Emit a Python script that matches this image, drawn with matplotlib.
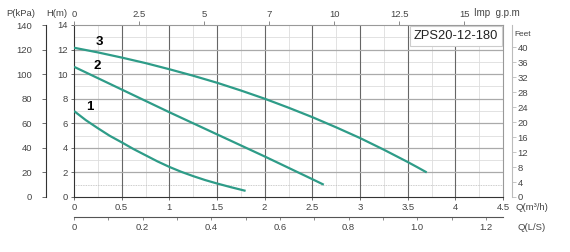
import numpy as np
import matplotlib.pyplot as plt
from matplotlib.ticker import MultipleLocator, FixedLocator

# pump curves, Q in m3/h, H in m
q1 = [0, 0.125, 0.25, 0.375, 0.5, 0.625, 0.75, 0.875, 1.0, 1.125, 1.25, 1.375, 1.5, 1.65, 1.8]
h1 = [7.0, 6.25, 5.6, 4.98, 4.45, 3.9, 3.4, 2.9, 2.45, 2.05, 1.7, 1.38, 1.1, 0.79, 0.5]
q2 = [0, 0.5, 1.0, 1.5, 2.0, 2.5, 2.62]
h2 = [10.6, 8.75, 6.9, 5.1, 3.3, 1.45, 1.0]
q3 = [0, 0.25, 0.5, 0.75, 1.0, 1.25, 1.5, 1.75, 2.0, 2.25, 2.5, 2.75, 3.0, 3.25, 3.5, 3.6, 3.7]
h3 = [12.15, 11.77, 11.35, 10.9, 10.4, 9.87, 9.3, 8.67, 8.0, 7.27, 6.5, 5.67, 4.8, 3.85, 2.85, 2.43, 2.0]
curve_names = ['1', '2', '3']

q_ticks = [0, 0.5, 1, 1.5, 2, 2.5, 3, 3.5, 4, 4.5]
q_labels = ['0', '0.5', '1', '1.5', '2', '2.5', '3', '3.5', '4', '4.5']
h_ticks = [0, 2, 4, 6, 8, 10, 12, 14]
p_ticks = [0, 20, 40, 60, 80, 100, 120, 140]
ft_ticks = [0, 4, 8, 12, 16, 20, 24, 28, 32, 36, 40]
gpm_ticks = [0, 2.5, 5, 7.5, 10, 12.5, 15]
gpm_labels = ['0', '2.5', '5', '7', '10', '12.5', '15']
ls_ticks = [0, 0.2, 0.4, 0.6, 0.8, 1.0, 1.2]
ls_labels = ['0', '0.2', '0.4', '0.6', '0.8', '1.0', '1.2']
model = 'ZPS20-12-180'

plt.rcParams['font.family'] = ['Liberation Sans', 'DejaVu Sans']
W, H = 570, 252
fig = plt.figure(figsize=(W / 100, H / 100), dpi=100)
x0, x1, y0, y1 = 74, 503, 25, 197
ax = fig.add_axes([x0 / W, 1 - y1 / H, (x1 - x0) / W, (y1 - y0) / H])
ax.set_xlim(0, 4.5)
ax.set_ylim(0, 14)

tc = '#444444'
fs = 6.8

# grid
for q in np.arange(0.25, 4.5, 0.5):
    ax.axvline(q, color='#dddddd', lw=0.6, zorder=0)
for q in np.arange(0.5, 4.5, 0.5):
    ax.axvline(q, color='#666666', lw=0.8, zorder=1)
for h in range(3, 14, 2):
    ax.axhline(h, color='#dddddd', lw=0.6, zorder=0)
ax.axhline(1, color='#bbbbbb', lw=0.6, ls=(0, (1, 1)), zorder=0)
for h in range(2, 14, 2):
    ax.axhline(h, color='#aaaaaa', lw=0.9, zorder=1)

teal = '#2e9c88'
for q, h in [(q1, h1), (q2, h2), (q3, h3)]:
    ax.plot(q, h, color=teal, lw=1.6, zorder=3, solid_capstyle='butt')

ax.text(0.17, 7.3, curve_names[0], fontsize=9.5, fontweight='bold', ha='center', va='center')
ax.text(0.24, 10.7, curve_names[1], fontsize=9.5, fontweight='bold', ha='center', va='center')
ax.text(0.27, 12.6, curve_names[2], fontsize=9.5, fontweight='bold', ha='center', va='center')

for s in ['top', 'right']:
    ax.spines[s].set_color('#999999')
    ax.spines[s].set_linewidth(0.8)
ax.spines['left'].set_color('#333333')
ax.spines['bottom'].set_color('#333333')

ax.set_xticks(q_ticks)
ax.set_xticklabels(q_labels)
ax.set_yticks(h_ticks)
ax.tick_params(axis='both', labelsize=fs, colors='#555555', labelcolor=tc,
               length=2.5, width=0.6, pad=2)

# model box
ax.text(4.45, 13.1, model, fontsize=9.3, ha='right', va='center', color='#222222',
        bbox=dict(boxstyle='square,pad=0.3', fc='white', ec='#cccccc', lw=0.8), zorder=5)

# pressure axis (kPa) on the far left
axp = ax.twinx()
axp.set_ylim(0, 140)
axp.yaxis.set_ticks_position('left')
axp.yaxis.set_label_position('left')
axp.spines['left'].set_position(('axes', (46 - x0) / (x1 - x0)))
axp.spines['left'].set_visible(True)
axp.spines['left'].set_color('#333333')
for s in ['top', 'right', 'bottom']:
    axp.spines[s].set_visible(False)
axp.set_yticks(p_ticks)
axp.tick_params(axis='y', labelsize=fs, colors='#555555', labelcolor=tc,
                length=3, width=0.6, pad=7)

# feet axis on the right
axf = ax.twinx()
axf.set_ylim(0, 14 * 3.28084)
axf.spines['right'].set_position(('axes', (512 - x0) / (x1 - x0)))
axf.spines['right'].set_color('#bbbbbb')
for s in ['top', 'left', 'bottom']:
    axf.spines[s].set_visible(False)
axf.set_yticks(ft_ticks)
axf.tick_params(axis='y', labelsize=fs, colors='#bbbbbb', labelcolor=tc,
                length=3, width=0.6, pad=1)

# imperial gpm on top
top = ax.secondary_xaxis('top', functions=(lambda q: q * 3.666, lambda g: g / 3.666))
top.set_xticks(gpm_ticks)
top.set_xticklabels(gpm_labels)
top.spines['top'].set_visible(False)
top.tick_params(labelsize=fs, colors='#777777', labelcolor=tc, length=3, width=0.6, pad=1)

# L/S scale below
bot = ax.secondary_xaxis((y1 - 217) / (y1 - y0), functions=(lambda q: q / 3.6, lambda l: l * 3.6))
bot.xaxis.set_major_locator(FixedLocator(ls_ticks))
bot.set_xticklabels(ls_labels)
bot.xaxis.set_minor_locator(MultipleLocator(0.1))
bot.spines['bottom'].set_color('#555555')
bot.tick_params(which='both', labelsize=fs, colors='#777777', labelcolor=tc,
                length=2.5, width=0.6, pad=2)

fig.text(21 / W, 1 - 13 / H, 'P(kPa)', fontsize=fs, color=tc, ha='center', va='center')
fig.text(57 / W, 1 - 13 / H, 'H(m)', fontsize=fs, color=tc, ha='center', va='center')
fig.text(497 / W, 1 - 13 / H, 'Imp  g.p.m', fontsize=7, color=tc, ha='center', va='center')
fig.text(523 / W, 1 - 34 / H, 'Feet', fontsize=6, color=tc, ha='center', va='center')
fig.text(516 / W, 1 - 207 / H, 'Q(m³/h)', fontsize=fs, color=tc, ha='left', va='center')
fig.text(518 / W, 1 - 228 / H, 'Q(L/S)', fontsize=fs, color=tc, ha='left', va='center')

fig.savefig('out.png', dpi=100)
